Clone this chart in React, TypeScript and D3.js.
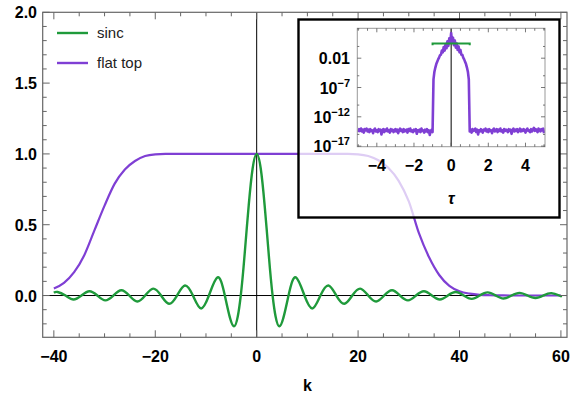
import React from "react";
import * as d3 from "d3";

// ---------- DATA ----------
// main panel: sinc(k)
const sincK = [
  -40, -39.27, -37.7, -36.13, -34.56, -32.99, -31.42, -29.85, -28.27, -26.7, -25.13, -23.56, -21.99,
  -20.42, -18.85, -17.28, -15.71, -14.14, -12.57, -11.0, -9.42, -7.73, -6.28, -4.49, -3.14, -2.4,
  -1.57, -0.8, 0, 0.8, 1.57, 2.4, 3.14, 4.49, 6.28, 7.73, 9.42, 11.0, 12.57, 14.14, 15.71, 17.28,
  18.85, 20.42, 21.99, 23.56, 25.13, 26.7, 28.27, 29.85, 31.42, 32.99, 34.56, 36.13, 37.7, 39.27,
  40.84, 42.41, 43.98, 45.55, 47.12, 48.69, 50.27, 51.84, 53.41, 54.98, 56.55, 58.12, 59.69, 60,
];
const sincV = [
  0.019, 0.025, 0, -0.028, 0, 0.03, 0, -0.034, 0, 0.037, 0, -0.042, 0,
  0.049, 0, -0.058, 0, 0.071, 0, -0.091, 0, 0.128, 0, -0.217, 0, 0.281,
  0.637, 0.897, 1, 0.897, 0.637, 0.281, 0, -0.217, 0, 0.128, 0, -0.091, 0, 0.071, 0, -0.058,
  0, 0.049, 0, -0.042, 0, 0.037, 0, -0.034, 0, 0.03, 0, -0.028, 0, 0.025,
  0, -0.024, 0, 0.022, 0, -0.021, 0, 0.019, 0, -0.018, 0, 0.017, 0, -0.005,
];

// main panel: flat top window
const flatK = [-40, -38, -36, -34, -32, -30, -28, -26, -24, -22, -20, -18, 0, 18, 20, 22, 24, 26, 28, 30, 32, 34, 36, 38, 40, 42, 44, 46, 48, 50, 55, 60];
const flatV = [0.05, 0.09, 0.165, 0.285, 0.46, 0.635, 0.79, 0.89, 0.95, 0.985, 0.997, 1, 1, 1, 0.997, 0.985, 0.955, 0.9, 0.81, 0.665, 0.44, 0.27, 0.145, 0.068, 0.03, 0.013, 0.005, 0.002, 0.001, 0, 0, 0];

// inset: log10 |transform| of the flat top
const floorLeft = [
  -14.6, -14.1, -14.4, -14.0, -14.5, -14.2, -14.7, -14.1, -14.3, -14.0,
  -14.5, -14.2, -14.6, -14.1, -14.4, -14.3, -14.8, -14.2, -14.0, -14.5,
  -14.3, -14.6, -14.1, -14.4, -14.2, -15.0, -14.3, -14.1, -14.6, -14.2,
  -14.4, -14.0, -14.5, -14.3, -14.7, -14.1, -14.4, -14.2, -14.6, -14.3,
  -14.1, -14.5, -14.2, -14.8, -14.3, -14.0, -14.4, -14.2, -14.6, -14.1,
  -14.5, -14.3, -14.2, -14.7, -14.1, -14.4, -14.0, -14.5, -14.3, -14.6,
  -14.2, -14.4, -14.1, -14.9, -14.3, -14.5, -14.2, -14.6, -14.0, -14.4,
  -14.3, -14.7, -14.2, -14.5, -14.1, -14.6, -14.3, -15.1, -14.4, -14.2,
  -14.6,
];
const dome = [
  -5.6, -4.3, -3.6, -3.0, -2.6, -2.2, -1.9, -1.5, -1.4, -0.7,
  -1.0, -0.1, -0.7, 0.4, -0.3, 0.9, 0.1, 1.4, 0.6, 2.3,
  0.7, 1.5, 0.2, 1.0, -0.2, 0.5, -0.6, 0.0, -1.0, -0.6,
  -1.4, -1.4, -1.9, -2.2, -2.6, -3.0, -3.6, -4.3, -5.6,
];
const floorRight = [
  -14.5, -14.2, -14.7, -14.1, -14.4, -14.3, -14.0, -14.6, -14.2, -15.0,
  -14.3, -14.5, -14.1, -14.4, -14.7, -14.2, -14.3, -14.0, -14.5, -14.2,
  -14.6, -14.1, -14.4, -14.3, -14.8, -14.2, -14.0, -14.5, -14.3, -14.1,
  -14.6, -14.2, -14.4, -14.0, -14.5, -14.3, -14.7, -14.1, -14.4, -14.2,
  -14.3, -14.6, -14.1, -14.4, -14.2, -14.9, -14.3, -14.0, -14.5, -14.2,
  -14.4, -14.1, -14.6, -14.3, -14.0, -14.5, -14.2, -14.4, -14.1, -14.3,
  -14.7, -14.2, -14.0, -14.4, -14.3, -14.6, -14.1, -14.5, -14.2, -13.9,
  -14.4, -14.1, -14.3, -14.6, -14.0, -14.2, -14.5, -14.1, -14.3, -14.0,
  -14.8,
];
// inset: transform of sinc (box of height pi, half value at the edges)
const boxTau = [-1, -1, 1, 1];
const boxV = [Math.PI / 2, Math.PI, Math.PI, Math.PI / 2];

const xTicksMain = [-40, -20, 0, 20, 40, 60];
const yTicksMain = [0, 0.5, 1, 1.5, 2];
const xTicksInset = [-4, -2, 0, 2, 4];
const yTicksInset = [-2, -7, -12, -17];

const GREEN = "#1f9a3b";
const PURPLE = "#7f3fd4";

export default function App() {
  const W = 571, H = 402;
  const x = d3.scaleLinear().domain([-42.2, 61.2]).range([42.7, 567]);
  const y = d3.scaleLinear().domain([-0.295, 2.0]).range([337.3, 12.3]);

  const sincPts = sincK.map((k, i) => [k, sincV[i]] as [number, number]);
  const flatPts = flatK.map((k, i) => [k, flatV[i]] as [number, number]);
  const lineMain = d3.line<[number, number]>().x(d => x(d[0])).y(d => y(d[1])).curve(d3.curveNatural);
  const lineFlat = d3.line<[number, number]>().x(d => x(d[0])).y(d => y(d[1])).curve(d3.curveMonotoneX);

  // inset scales
  const xi = d3.scaleLinear().domain([-5.05, 5.05]).range([357.3, 545]);
  const yi = d3.scaleLinear().domain([-17.1, 3.1]).range([146.7, 28.3]);
  const insetPts: [number, number][] = [];
  floorLeft.forEach((v, i) => insetPts.push([-5 + i * 0.05, v]));
  dome.forEach((v, i) => insetPts.push([-0.95 + i * 0.05, v]));
  floorRight.forEach((v, i) => insetPts.push([1 + i * 0.05, v]));
  const lineInset = d3.line<[number, number]>().x(d => xi(d[0])).y(d => yi(d[1]));
  const boxPts = boxTau.map((t, i) => [t, Math.log10(boxV[i])] as [number, number]);

  const frame = "#666";
  const [x0, x1] = x.range();
  const [yb, yt] = y.range();

  const minorX = d3.range(-40, 61, 5);
  const minorY = d3.range(-0.2, 2.001, 0.1);

  const ix0 = 357.3, ix1 = 545, iyt = 28.3, iyb = 146.7;
  const minorXi = d3.range(-5, 5.01, 0.5);
  const minorYi = d3.range(-17, 3.1, 1);

  const bold = { fontFamily: "Liberation Sans, Arial, sans-serif", fontWeight: 700 } as const;

  return (
    <svg width={W} height={H} style={{ position: "absolute", left: 0, top: 0, background: "#fff" }}>
      <defs>
        <clipPath id="mainclip">
          <rect x={x0} y={yt} width={x1 - x0} height={yb - yt} />
        </clipPath>
        <clipPath id="insetclip">
          <rect x={ix0} y={iyt - 6} width={ix1 - ix0} height={iyb - iyt + 6} />
        </clipPath>
      </defs>

      {/* axes lines in main plot */}
      <line x1={x0} x2={x1} y1={y(0)} y2={y(0)} stroke="#000" strokeWidth={1} />
      <line x1={x(0)} x2={x(0)} y1={yt} y2={yb} stroke="#000" strokeWidth={1} />

      {/* curves */}
      <g clipPath="url(#mainclip)">
        <path d={lineFlat(flatPts) ?? ""} fill="none" stroke={PURPLE} strokeWidth={2.2} />
        <path d={lineMain(sincPts) ?? ""} fill="none" stroke={GREEN} strokeWidth={2.4} />
      </g>

      {/* main frame */}
      <rect x={x0} y={yt} width={x1 - x0} height={yb - yt} fill="none" stroke={frame} strokeWidth={1.2} />
      {minorX.map(v => {
        const major = v % 20 === 0;
        const L = major ? 7 : 4;
        return (
          <g key={"mx" + v}>
            <line x1={x(v)} x2={x(v)} y1={yb} y2={yb - L} stroke={frame} strokeWidth={1} />
            <line x1={x(v)} x2={x(v)} y1={yt} y2={yt + L} stroke={frame} strokeWidth={1} />
          </g>
        );
      })}
      {minorY.map(v => {
        const r = Math.round(v * 10) / 10;
        const major = Math.abs(r * 2 - Math.round(r * 2)) < 1e-6;
        const L = major ? 7 : 4;
        return (
          <g key={"my" + r}>
            <line x1={x0} x2={x0 + L} y1={y(r)} y2={y(r)} stroke={frame} strokeWidth={1} />
            <line x1={x1} x2={x1 - L} y1={y(r)} y2={y(r)} stroke={frame} strokeWidth={1} />
          </g>
        );
      })}
      {xTicksMain.map(v => (
        <text key={"xl" + v} x={x(v)} y={362} textAnchor="middle" fontSize={16} {...bold} fill="#000">
          {v < 0 ? "\u2212" + Math.abs(v) : String(v)}
        </text>
      ))}
      {yTicksMain.map(v => (
        <text key={"yl" + v} x={37} y={y(v) + 6} textAnchor="end" fontSize={16} {...bold} fill="#000">
          {v.toFixed(1)}
        </text>
      ))}
      <text x={x(10)} y={391} textAnchor="middle" fontSize={16} {...bold} fill="#000">k</text>

      {/* legend */}
      <line x1={57} x2={88} y1={33} y2={33} stroke={GREEN} strokeWidth={2.4} />
      <text x={97} y={38} fontSize={15} fontFamily="Liberation Sans, Arial, sans-serif" fill="#222">sinc</text>
      <line x1={57} x2={88} y1={63} y2={63} stroke={PURPLE} strokeWidth={2.4} />
      <text x={97} y={68} fontSize={15} fontFamily="Liberation Sans, Arial, sans-serif" fill="#222">flat top</text>

      {/* inset */}
      <rect x={298.5} y={19.5} width={261} height={198} fill="#fff" fillOpacity={0.74} stroke="#000" strokeWidth={2.4} />
      <line x1={xi(0)} x2={xi(0)} y1={iyt} y2={iyb} stroke="#000" strokeWidth={1} />
      <g clipPath="url(#insetclip)">
        <path d={lineInset(insetPts) ?? ""} fill="none" stroke={PURPLE} strokeWidth={2.6} strokeLinejoin="round" />
        <path d={lineInset(boxPts) ?? ""} fill="none" stroke={GREEN} strokeWidth={2} />
      </g>
      <rect x={ix0} y={iyt} width={ix1 - ix0} height={iyb - iyt} fill="none" stroke="#999" strokeWidth={1} />
      {minorXi.map(v => {
        const major = Math.abs(v % 2) < 1e-6;
        const L = major ? 4 : 2.5;
        return (
          <g key={"ix" + v}>
            <line x1={xi(v)} x2={xi(v)} y1={iyb} y2={iyb - L} stroke="#555" strokeWidth={0.8} />
            <line x1={xi(v)} x2={xi(v)} y1={iyt} y2={iyt + L} stroke="#555" strokeWidth={0.8} />
          </g>
        );
      })}
      {minorYi.map(v => {
        const major = yTicksInset.includes(v);
        const L = major ? 4 : 2;
        if (!major && Math.abs(v) % 5 !== 0 && v % 5 !== 3) return null;
        return (
          <g key={"iy" + v}>
            <line x1={ix0} x2={ix0 + L} y1={yi(v)} y2={yi(v)} stroke="#555" strokeWidth={0.8} />
            <line x1={ix1} x2={ix1 - L} y1={yi(v)} y2={yi(v)} stroke="#555" strokeWidth={0.8} />
          </g>
        );
      })}
      {xTicksInset.map(v => (
        <text key={"ixl" + v} x={xi(v)} y={171} textAnchor="middle" fontSize={16} {...bold} fill="#000">
          {v < 0 ? "\u2212" + Math.abs(v) : String(v)}
        </text>
      ))}
      {yTicksInset.map(v => (
        v === -2 ? (
          <text key={"iyl" + v} x={350} y={yi(v) + 6} textAnchor="end" fontSize={16} {...bold} fill="#000">0.01</text>
        ) : (
          <text key={"iyl" + v} x={350} y={yi(v) + 6} textAnchor="end" fontSize={16} {...bold} fill="#000">
            10<tspan fontSize={11} dy={-7}>{"\u2212" + Math.abs(v)}</tspan>
          </text>
        )
      ))}
      <text x={xi(0)} y={204} textAnchor="middle" fontSize={16} {...bold} fontStyle="italic" fill="#000">τ</text>
    </svg>
  );
}
